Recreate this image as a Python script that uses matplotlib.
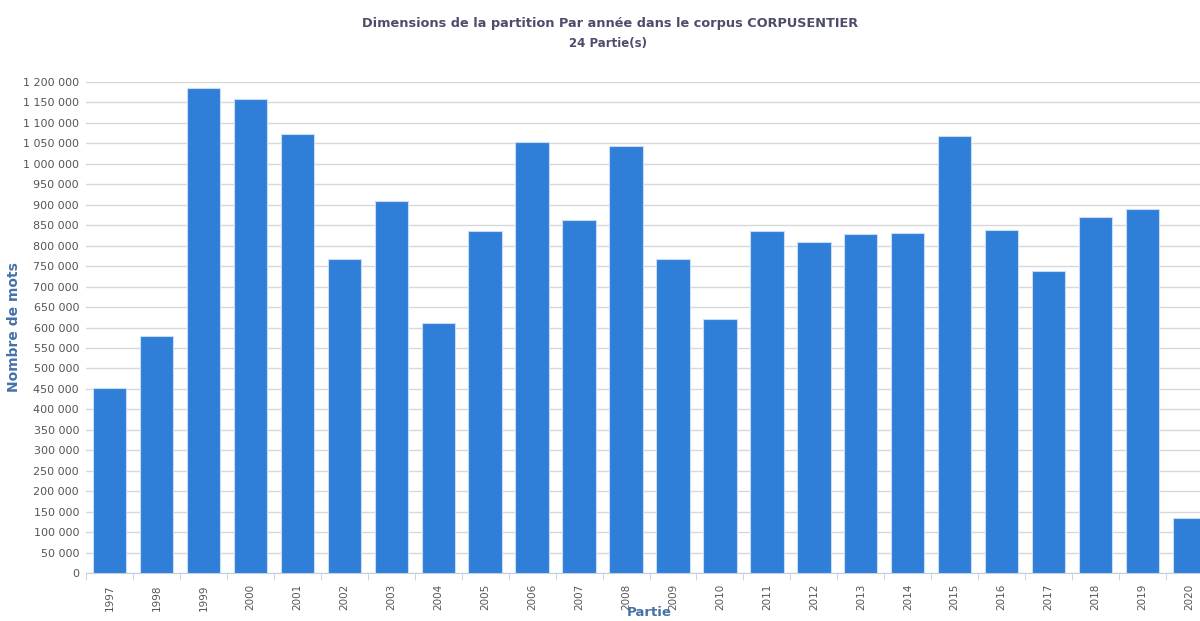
import matplotlib.pyplot as plt
import numpy as np
from matplotlib.ticker import FuncFormatter, MultipleLocator

years = [str(y) for y in range(1997, 2021)]
mots = [452000, 579000, 1185000, 1158000, 1073000, 767000, 909000, 611000,
        836000, 1054000, 863000, 1043000, 767000, 621000, 836000, 809000,
        828000, 831000, 1068000, 838000, 738000, 870000, 890000, 134000]

fig = plt.figure(figsize=(12, 6.21), dpi=100)
# plot area runs a little past the right edge, like the original
ax = fig.add_axes([86 / 1200, 48 / 621, 1127 / 1200, 491 / 621])

x = np.arange(len(years))
ax.bar(x, mots, width=0.71, color="#2f7ed8", edgecolor="#c8dcf5",
       linewidth=0.8, zorder=3)

ax.set_xlim(-0.5, len(years) - 0.5)
ax.set_ylim(0, 1200000)
ax.yaxis.set_major_locator(MultipleLocator(50000))
ax.yaxis.set_major_formatter(
    FuncFormatter(lambda v, p: f"{int(v):,}".replace(",", " ")))
ax.grid(axis="y", color="#d8d8d8", linewidth=1, zorder=0)

ax.set_xticks(x)
ax.set_xticklabels(years, rotation=90, fontsize=7.5, color="#555555")
ax.set_xticks(np.arange(-0.5, len(years)), minor=True)
ax.tick_params(axis="x", which="major", length=0, pad=8)
ax.tick_params(axis="x", which="minor", length=5, color="#c0d0e0")
ax.tick_params(axis="y", length=0, labelsize=8, labelcolor="#555555", pad=5)

for s in ["left", "right", "top"]:
    ax.spines[s].set_visible(False)
ax.spines["bottom"].set_color("#c0d0e0")

ax.set_ylabel("Nombre de mots", color="#4572a7", fontsize=10,
              fontweight="bold")
ax.yaxis.set_label_coords(-0.058, 0.5)
fig.text(649 / 1200, 2 / 621, "Partie", color="#4572a7", fontsize=9.5,
         fontweight="bold", ha="center", va="bottom")

fig.text(610 / 1200, 1 - 23 / 621,
         "Dimensions de la partition Par année dans le corpus CORPUSENTIER",
         ha="center", va="center", fontsize=9.3, fontweight="bold",
         color="#4d4d6b")
fig.text(608 / 1200, 1 - 44 / 621, "24 Partie(s)", ha="center",
         va="center", fontsize=8.5, fontweight="bold", color="#4d4d6b")

fig.savefig("out.png", dpi=100)
